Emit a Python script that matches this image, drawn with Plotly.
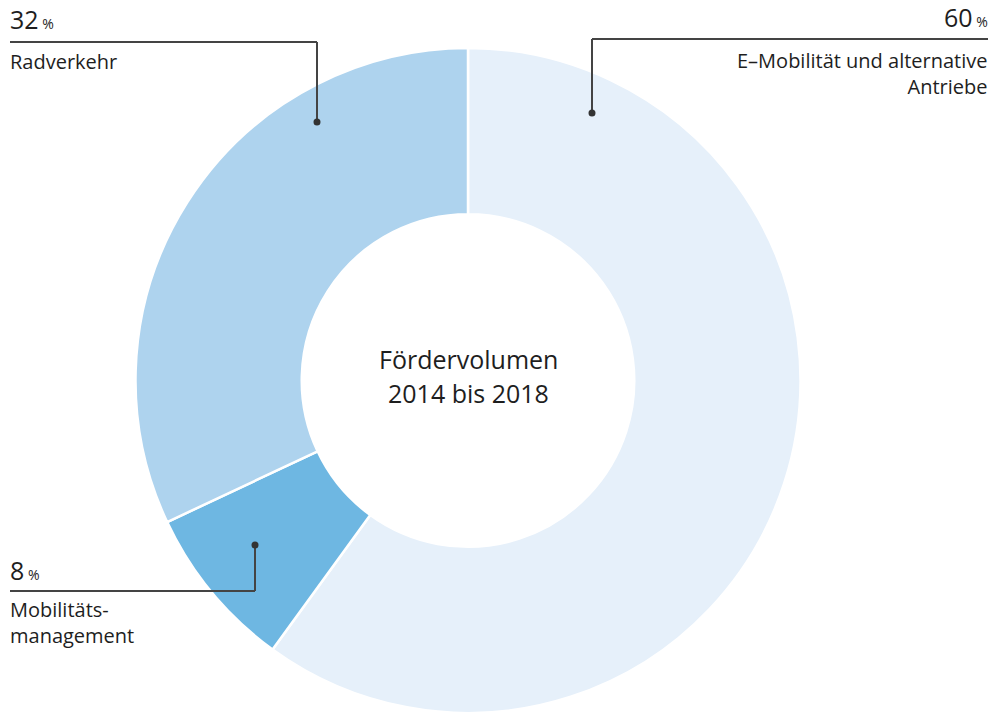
import plotly.graph_objects as go

W, H = 992, 713

# Data
labels = ["E–Mobilität und alternative Antriebe", "Mobilitätsmanagement", "Radverkehr"]
values = [60, 8, 32]
colors = ["#E6F0FA", "#6EB7E2", "#AED3EE"]

FONT = "Open Sans"
TEXT = "#1E1E1E"
LINE = "#444444"


def X(px):
    return px / W


def Y(py):
    return 1 - py / H


# donut geometry (pixels)
CX, CY, R = 468, 381, 333

fig = go.Figure(go.Pie(
    labels=labels, values=values, sort=False, direction="clockwise", rotation=0,
    hole=0.5, textinfo="none", hoverinfo="label+percent",
    marker=dict(colors=colors, line=dict(color="white", width=2.5)),
    domain=dict(x=[X(CX - R), X(CX + R)], y=[max(0, Y(CY + R)), Y(CY - R)]),
    showlegend=False,
))


def num(v):
    return f"{v}<span style='font-size:14px'> %</span>"


annotations = [
    # 32 %
    dict(x=X(8), y=Y(38), text=num(32), xanchor="left", yanchor="bottom", font=dict(size=25)),
    dict(x=X(8), y=Y(46), text="Radverkehr", xanchor="left", yanchor="top"),
    # 60 %
    dict(x=X(990), y=Y(36), text=num(60), xanchor="right", yanchor="bottom", font=dict(size=25)),
    dict(x=X(990), y=Y(45), text="E–Mobilität und alternative<br>Antriebe", xanchor="right",
         yanchor="top", align="right"),
    # 8 %
    dict(x=X(8), y=Y(589), text=num(8), xanchor="left", yanchor="bottom", font=dict(size=25)),
    dict(x=X(8), y=Y(594), text="Mobilitäts-<br>management", xanchor="left", yanchor="top",
         align="left"),
    # centre
    dict(x=X(CX), y=Y(359), text="Fördervolumen", xanchor="center", yanchor="middle",
         font=dict(size=25)),
    dict(x=X(CX), y=Y(393), text="2014 bis 2018", xanchor="center", yanchor="middle",
         font=dict(size=25)),
]
for a in annotations:
    a.update(xref="paper", yref="paper", showarrow=False)
    a.setdefault("font", {})
    a["font"] = dict(family=FONT, color=TEXT, size=a["font"].get("size", 20))

shapes = []
# leader lines: (horizontal from, horizontal to, y, vertical end y)
leaders = [
    ((10, 317), 42, 122),
    ((592, 988), 39, 113),
    ((10, 255), 591, 545),
]
for (x0, x1), yh, yd in leaders:
    xv = x1 if x1 < 600 else x0
    shapes.append(dict(type="line", x0=X(x0), x1=X(x1), y0=Y(yh), y1=Y(yh),
                       line=dict(color=LINE, width=2)))
    shapes.append(dict(type="line", x0=X(xv), x1=X(xv), y0=Y(yh), y1=Y(yd),
                       line=dict(color=LINE, width=2)))
    shapes.append(dict(type="circle", x0=X(xv - 3.5), x1=X(xv + 3.5), y0=Y(yd - 3.5),
                       y1=Y(yd + 3.5), fillcolor="#333333", line=dict(width=0)))
for s in shapes:
    s.update(xref="paper", yref="paper")

fig.update_layout(
    width=W, height=H, margin=dict(l=0, r=0, t=0, b=0),
    paper_bgcolor="white", plot_bgcolor="white",
    annotations=annotations, shapes=shapes,
    font=dict(family=FONT, color=TEXT),
)

fig.write_html("out.html", config={"displayModeBar": False},
               post_script="document.body.style.margin='0';")
